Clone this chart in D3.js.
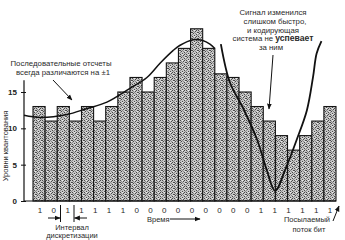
<!DOCTYPE html>
<html>
<head>
<meta charset="utf-8">
<script src="https://cdn.jsdelivr.net/npm/d3@7"></script>
<style>
  html, body { margin: 0; padding: 0; background: #fff; }
  svg { display: block; }
  text { font-family: "Liberation Sans", Arial, sans-serif; fill: #2a2a2a; }
</style>
</head>
<body>
<div id="chart"></div>
<script>
// quantised sample levels, one bar per sampling interval
const levels = [13, 11, 13, 11, 13, 11, 13, 15, 17, 15, 17, 19, 21, 23.7, 21, 17.5, 17, 15, 13, 11, 9, 7, 9, 11, 13];

// transmitted bit stream under the bars
const bits = [1, 0, 1, 1, 1, 1, 1, 0, 0, 0, 0, 0, 0, 0, 0, 0, 1, 1, 1, 1, 1, 1];

// y axis tick labels
const yTicks = [0, 5, 10, 15];

// analogue signal (x in sample units, y in levels), drawn in two strokes
const signalX1 = [-0.74, 0.6, 2.8, 4.4, 6.1, 8.0, 9.4, 10.5, 11.55, 12.1, 13.2, 14.0, 14.6, 15.0];
const signalY1 = [11.8, 11.5, 11.9, 12.7, 13.6, 15.5, 17.0, 19.0, 20.7, 21.4, 22.2, 22.1, 21.6, 21.0];
const signalX2 = [15.5, 16.25, 17.3, 18.5, 19.3, 19.97, 20.9, 21.75, 22.6, 23.1, 23.4, 23.8];
const signalY2 = [21.6, 16.3, 12.9, 8.4, 4.2, 1.4, 4.7, 8.4, 12.5, 17.0, 20.3, 22.0];

const width = 345, height = 240;

const svg = d3.select("#chart").append("svg")
  .attr("width", width)
  .attr("height", height);

// stipple texture for the bars
const defs = svg.append("defs");
const pat = defs.append("pattern")
  .attr("id", "stipple")
  .attr("patternUnits", "userSpaceOnUse")
  .attr("width", 6).attr("height", 6);
pat.append("rect").attr("width", 6).attr("height", 6).attr("fill", "#c6c6c6");
[[0, 0], [3, 1], [1, 3], [4, 4], [5, 2], [2, 5], [4, 0], [0, 2]].forEach(([dx, dy]) => {
  pat.append("rect").attr("x", dx).attr("y", dy).attr("width", 1).attr("height", 1).attr("fill", "#4a4a4a");
});
[[2, 2], [5, 5], [0, 4], [3, 3], [1, 1]].forEach(([dx, dy]) => {
  pat.append("rect").attr("x", dx).attr("y", dy).attr("width", 1).attr("height", 1).attr("fill", "#8a8a8a");
});
[[2, 0], [5, 3]].forEach(([dx, dy]) => {
  pat.append("rect").attr("x", dx).attr("y", dy).attr("width", 1).attr("height", 1).attr("fill", "#ececec");
});

defs.append("marker")
  .attr("id", "head")
  .attr("viewBox", "0 0 10 10")
  .attr("refX", 9).attr("refY", 5)
  .attr("markerWidth", 6).attr("markerHeight", 6)
  .attr("orient", "auto")
  .append("path")
  .attr("d", "M0,1 L10,5 L0,9 Z")
  .attr("fill", "#111");

const x = d3.scaleLinear().domain([0, levels.length]).range([33, 336]);
const y = d3.scaleLinear().domain([0, 15]).range([201, 92]);

// bars
svg.append("g").selectAll("rect")
  .data(levels)
  .enter().append("rect")
  .attr("x", (d, i) => x(i))
  .attr("y", d => y(d))
  .attr("width", (d, i) => x(i + 1) - x(i))
  .attr("height", d => y(0) - y(d))
  .attr("fill", "url(#stipple)")
  .attr("stroke", "#151515")
  .attr("stroke-width", 1.1);

// baseline
svg.append("line")
  .attr("x1", 24).attr("x2", x(levels.length))
  .attr("y1", y(0)).attr("y2", y(0))
  .attr("stroke", "#111").attr("stroke-width", 1.2);

// y axis
const yAxis = svg.append("g")
  .attr("transform", "translate(24,0)")
  .call(d3.axisLeft(y).tickValues(yTicks).tickSize(3).tickPadding(4));
yAxis.select(".domain").remove();
yAxis.selectAll(".tick line").attr("x2", -3).attr("x1", 2).attr("stroke", "#111");
yAxis.selectAll(".tick text")
  .attr("font-family", "'Liberation Serif', serif")
  .attr("font-weight", "bold")
  .attr("font-size", 8)
  .style("fill", "#222");
svg.append("line")
  .attr("x1", 24).attr("x2", 24)
  .attr("y1", y(0)).attr("y2", y(16.6))
  .attr("stroke", "#111").attr("stroke-width", 1.2);

svg.append("text")
  .attr("transform", "translate(8,146) rotate(-90)")
  .attr("text-anchor", "middle")
  .attr("font-size", 7.5)
  .text("Уровни квантования");

// signal curve
const line = d3.line()
  .x(d => x(d[0]))
  .y(d => y(d[1]))
  .curve(d3.curveCatmullRom);

svg.append("path")
  .datum(signalX1.map((v, i) => [v, signalY1[i]]))
  .attr("d", line)
  .attr("fill", "none")
  .attr("stroke", "#111")
  .attr("stroke-width", 1.5);

svg.append("path")
  .datum(signalX2.map((v, i) => [v, signalY2[i]]))
  .attr("d", line)
  .attr("fill", "none")
  .attr("stroke", "#111")
  .attr("stroke-width", 1.8);

// bit stream
const bx = d3.scalePoint().domain(d3.range(bits.length)).range([40, 330]);
svg.append("g").selectAll("text")
  .data(bits)
  .enter().append("text")
  .attr("x", (d, i) => bx(i))
  .attr("y", 213)
  .attr("text-anchor", "middle")
  .attr("font-size", 8)
  .text(d => d);

// sampling interval markers
[60.5, 74].forEach(px => {
  svg.append("line")
    .attr("x1", px).attr("x2", px).attr("y1", 205).attr("y2", 222)
    .attr("stroke", "#111").attr("stroke-width", 1);
});
svg.append("line")
  .attr("x1", 48).attr("x2", 60).attr("y1", 218).attr("y2", 218)
  .attr("stroke", "#111").attr("stroke-width", 1)
  .attr("marker-end", "url(#head)");
svg.append("line")
  .attr("x1", 87).attr("x2", 74.5).attr("y1", 218).attr("y2", 218)
  .attr("stroke", "#111").attr("stroke-width", 1)
  .attr("marker-end", "url(#head)");

svg.append("text").attr("x", 72).attr("y", 230).attr("text-anchor", "middle")
  .attr("font-size", 7.5).text("Интервал");
svg.append("text").attr("x", 72).attr("y", 238).attr("text-anchor", "middle")
  .attr("font-size", 7.5).text("дискретизации");

// time arrow
svg.append("text").attr("x", 147).attr("y", 222)
  .attr("font-size", 7.5).text("Время");
svg.append("line")
  .attr("x1", 170).attr("x2", 200).attr("y1", 219).attr("y2", 219)
  .attr("stroke", "#111").attr("stroke-width", 1)
  .attr("marker-end", "url(#head)");

// sent bit stream
svg.append("text").attr("x", 307).attr("y", 222).attr("text-anchor", "middle")
  .attr("font-size", 7.5).text("Посылаемый");
svg.append("text").attr("x", 309).attr("y", 232).attr("text-anchor", "middle")
  .attr("font-size", 7.5).text("поток бит");
svg.append("line")
  .attr("x1", 333).attr("x2", 339).attr("y1", 221).attr("y2", 206)
  .attr("stroke", "#111").attr("stroke-width", 1)
  .attr("marker-end", "url(#head)");

// annotation: successive samples
const note1 = svg.append("text").attr("text-anchor", "middle").attr("font-size", 7.8);
note1.append("tspan").attr("x", 61).attr("y", 66).text("Последовательные отсчеты");
note1.append("tspan").attr("x", 63).attr("y", 74.5).text("всегда различаются на ±1");
svg.append("line")
  .attr("x1", 53).attr("x2", 72).attr("y1", 80).attr("y2", 100)
  .attr("stroke", "#111").attr("stroke-width", 1)
  .attr("marker-end", "url(#head)");

// annotation: slope overload
const note2 = svg.append("text").attr("text-anchor", "middle").attr("font-size", 7.8);
note2.append("tspan").attr("x", 273).attr("y", 15).text("Сигнал изменился");
note2.append("tspan").attr("x", 275).attr("y", 24).text("слишком быстро,");
note2.append("tspan").attr("x", 273).attr("y", 32.5).text("и кодирующая");
const l4 = note2.append("tspan").attr("x", 273).attr("y", 41).text("система не ");
l4.append("tspan").attr("font-weight", "bold").attr("font-size", 8.6).text("успевает");
note2.append("tspan").attr("x", 271).attr("y", 50).text("за ним");
svg.append("line")
  .attr("x1", 273).attr("x2", 269).attr("y1", 55).attr("y2", 109)
  .attr("stroke", "#111").attr("stroke-width", 1)
  .attr("marker-end", "url(#head)");
</script>
</body>
</html>
